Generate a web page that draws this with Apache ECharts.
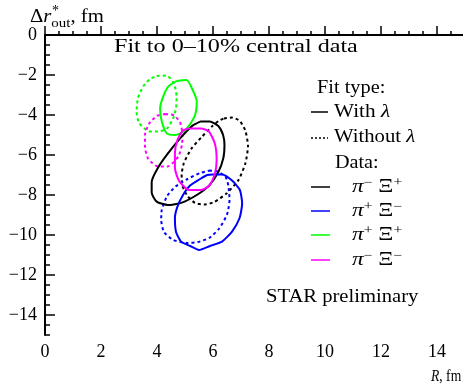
<!DOCTYPE html>
<html><head><meta charset="utf-8">
<script src="https://cdn.jsdelivr.net/npm/echarts@6/dist/echarts.min.js"></script>
<style>html,body{margin:0;padding:0;background:#fff}#c{width:463px;height:388px}</style>
</head><body><div id="c"></div>
<script>
// ---- data (R [fm], Δr*out [fm]) ----
const seriesNames = ['π⁻Ξ⁺', 'π⁺Ξ⁻', 'π⁺Ξ⁺', 'π⁻Ξ⁻'];
const seriesColors = ['#000000', '#0000ff', '#00ff00', '#ff00ff'];
const xTickLabels = [0, 2, 4, 6, 8, 10, 12, 14];
const yTickLabels = [0, -2, -4, -6, -8, -10, -12, -14];

const piMXiP_with = [[5.54,-4.33],[5.89,-4.33],[6.19,-4.55],[6.36,-5.00],[6.41,-5.50],[6.37,-6.15],[6.19,-6.85],[5.86,-7.53],[5.42,-8.00],[4.89,-8.38],[4.39,-8.50],[3.99,-8.33],[3.81,-7.88],[3.81,-7.35],[4.02,-6.67],[4.39,-5.92],[4.88,-5.08],[5.27,-4.53]];
const piMXiP_without = [[6.39,-4.17],[6.68,-4.13],[6.96,-4.30],[7.16,-4.80],[7.25,-5.55],[7.16,-6.40],[6.91,-7.25],[6.48,-7.93],[6.04,-8.35],[5.68,-8.48],[5.36,-8.40],[5.09,-8.05],[4.91,-7.55],[4.88,-7.00],[4.96,-6.40],[5.23,-5.68],[5.61,-5.08],[5.98,-4.55],[6.20,-4.30]];
const piPXiM_with = [[5.98,-6.98],[6.32,-6.98],[6.68,-7.28],[6.96,-7.75],[7.04,-8.42],[6.95,-9.15],[6.68,-9.83],[6.32,-10.33],[5.89,-10.55],[5.50,-10.75],[5.18,-10.55],[4.86,-10.33],[4.68,-9.85],[4.64,-9.15],[4.73,-8.58],[4.93,-8.00],[5.18,-7.53],[5.54,-7.20],[5.79,-7.00]];
const piPXiM_without = [[5.86,-6.78],[6.18,-6.83],[6.45,-7.10],[6.55,-7.55],[6.59,-8.25],[6.50,-8.98],[6.21,-9.70],[5.86,-10.15],[5.46,-10.35],[5.05,-10.40],[4.58,-10.25],[4.25,-9.85],[4.15,-9.25],[4.17,-8.75],[4.36,-8.05],[4.66,-7.58],[5.09,-7.20],[5.54,-6.90]];
const piPXiP_with = [[4.70,-2.30],[5.06,-2.25],[5.30,-2.83],[5.42,-3.33],[5.36,-4.00],[5.12,-4.58],[4.94,-4.83],[4.64,-5.00],[4.35,-4.92],[4.17,-4.33],[4.11,-3.67],[4.22,-3.08],[4.40,-2.58]];
const piPXiP_without = [[3.99,-2.05],[4.35,-2.03],[4.61,-2.45],[4.70,-3.10],[4.68,-3.65],[4.57,-4.20],[4.36,-4.67],[4.04,-4.83],[3.68,-4.80],[3.36,-4.40],[3.27,-3.85],[3.32,-3.15],[3.52,-2.55],[3.75,-2.20]];
const piMXiM_with = [[5.12,-4.67],[5.57,-4.67],[5.86,-4.83],[6.07,-5.45],[6.13,-6.25],[6.07,-6.92],[5.89,-7.50],[5.57,-7.75],[5.14,-7.75],[4.79,-7.30],[4.64,-6.65],[4.64,-5.90],[4.73,-5.25],[4.91,-4.80]];
const piMXiM_without = [[4.29,-3.95],[4.58,-4.00],[4.82,-4.35],[4.91,-5.00],[4.89,-5.50],[4.76,-6.08],[4.39,-6.57],[4.04,-6.58],[3.69,-6.20],[3.57,-5.58],[3.57,-5.00],[3.71,-4.45],[3.99,-4.05]];

const withSets = [piMXiP_with, piPXiM_with, piPXiP_with, piMXiM_with];
const withoutSets = [piMXiP_without, piPXiM_without, piPXiP_without, piMXiM_without];

// ---- chart ----
const FONT = '"Liberation Serif","Times New Roman",serif';
const close = pts => pts.concat([pts[0]]);
const series = [];
withoutSets.forEach((pts, i) => series.push({
  name: seriesNames[i] + ' (without λ)', type: 'line', data: close(pts), showSymbol: false, smooth: 0.2,
  lineStyle: { color: seriesColors[i], width: 2, type: [3, 3] }, silent: true, z: 2
}));
withSets.forEach((pts, i) => series.push({
  name: seriesNames[i] + ' (with λ)', type: 'line', data: close(pts), showSymbol: false, smooth: 0.2,
  lineStyle: { color: seriesColors[i], width: 2 }, silent: true, z: 3
}));

const minus = v => (v < 0 ? '\u2212' + Math.abs(v) : String(v));
const chart = echarts.init(document.getElementById('c'), null, { renderer: 'canvas' });

const richPi = {
  i: { fontFamily: FONT, fontSize: 18, fontStyle: 'italic', color: '#000' },
  n: { fontFamily: FONT, fontSize: 18, color: '#000' },
  sup: { fontFamily: FONT, fontSize: 12, color: '#000', verticalAlign: 'top', lineHeight: 20 }
};
const piLabels = ['{i|π}{sup|−} {n|Ξ}{sup|+}', '{i|π}{sup|+} {n|Ξ}{sup|−}', '{i|π}{sup|+} {n|Ξ}{sup|+}', '{i|π}{sup|−} {n|Ξ}{sup|−}'];
const legendY = [187, 211, 235, 260];
const italic = { i: { fontFamily: FONT, fontSize: 18, fontStyle: 'italic', fill: '#000' } };

const graphic = [
  { type: 'text', x: 30, y: 4, scaleX: 1.15, style: { text: '{n|Δ}{i|r}{sub|out}{n|, fm}', rich: {
      n: { fontFamily: FONT, fontSize: 18, color: '#000' },
      i: { fontFamily: FONT, fontSize: 18, fontStyle: 'italic', color: '#000' },
      sub: { fontFamily: FONT, fontSize: 13, color: '#000', verticalAlign: 'bottom', lineHeight: 26 } } } },
  { type: 'text', x: 52, y: 4, style: { text: '*', fontFamily: FONT, fontSize: 14, fill: '#000' } },
  { type: 'text', x: 114, y: 47, scaleX: 1.34, style: { text: 'Fit to 0–10% central data', fontFamily: FONT, fontSize: 18, fill: '#000', textVerticalAlign: 'middle' } },
  { type: 'text', x: 317, y: 88, scaleX: 1.13, style: { text: 'Fit type:', fontFamily: FONT, fontSize: 18, fill: '#000', textVerticalAlign: 'middle' } },
  { type: 'line', shape: { x1: 311, y1: 112, x2: 328, y2: 112 }, style: { stroke: '#000', lineWidth: 1.5 } },
  { type: 'text', x: 334, y: 112, scaleX: 1.18, style: { text: 'With {i|λ}', rich: italic, fontFamily: FONT, fontSize: 18, fill: '#000', textVerticalAlign: 'middle' } },
  { type: 'line', shape: { x1: 311, y1: 138, x2: 328, y2: 138 }, style: { stroke: '#000', lineWidth: 1.5, lineDash: [2, 2] } },
  { type: 'text', x: 334, y: 137, scaleX: 1.15, style: { text: 'Without {i|λ}', rich: italic, fontFamily: FONT, fontSize: 18, fill: '#000', textVerticalAlign: 'middle' } },
  { type: 'text', x: 335, y: 163, scaleX: 1.12, style: { text: 'Data:', fontFamily: FONT, fontSize: 18, fill: '#000', textVerticalAlign: 'middle' } },
  { type: 'text', x: 266, y: 297, scaleX: 1.145, style: { text: 'STAR preliminary', fontFamily: FONT, fontSize: 18, fill: '#000', textVerticalAlign: 'middle' } },
  { type: 'text', x: 431, y: 377, scaleX: 0.8, style: { text: '{i|R}, fm', rich: { i: { fontFamily: FONT, fontSize: 17, fontStyle: 'italic', fill: '#000' } }, fontFamily: FONT, fontSize: 17, fill: '#000', textVerticalAlign: 'middle' } }
];
seriesNames.forEach((n, i) => {
  graphic.push({ type: 'line', shape: { x1: 311, y1: legendY[i], x2: 330, y2: legendY[i] }, style: { stroke: seriesColors[i], lineWidth: 1.5 } });
  graphic.push({ type: 'text', x: 352, y: legendY[i], scaleX: 1.3, style: { text: piLabels[i], rich: richPi, fontFamily: FONT, fontSize: 18, fill: '#000', textVerticalAlign: 'middle' } });
});

const axLine = { show: true, lineStyle: { color: '#000', width: 2 } };
chart.setOption({
  animation: false,
  backgroundColor: '#fff',
  grid: { left: 45, top: 35, width: 448, height: 300, containLabel: false, outerBoundsMode: 'none' },
  xAxis: [
    { type: 'value', position: 'bottom', min: 0, max: 16, interval: 0.5, axisLine: axLine,
      axisTick: { inside: true, length: 4, lineStyle: { color: '#000', width: 1.5 } }, axisLabel: { show: false }, splitLine: { show: false } },
    { type: 'value', position: 'bottom', min: 0, max: 16, interval: 2, axisLine: { show: false },
      axisTick: { inside: true, length: 9, lineStyle: { color: '#000', width: 1.5 } },
      axisLabel: { color: '#000', fontFamily: FONT, fontSize: 18, margin: 8, formatter: v => (xTickLabels.includes(v) ? String(v) : '') },
      splitLine: { show: false } },
    { type: 'value', position: 'top', min: 0, max: 16, axisLine: axLine, axisTick: { show: false }, axisLabel: { show: false }, splitLine: { show: false } }
  ],
  yAxis: [
    { type: 'value', position: 'left', min: -15, max: 0, interval: 0.5, axisLine: axLine,
      axisTick: { inside: true, length: 5, lineStyle: { color: '#000', width: 1.5 } }, axisLabel: { show: false }, splitLine: { show: false } },
    { type: 'value', position: 'left', min: -15, max: 0, axisLine: { show: false },
      axisTick: { inside: true, length: 10, customValues: yTickLabels, lineStyle: { color: '#000', width: 1.5 } },
      axisLabel: { color: '#000', fontFamily: FONT, fontSize: 18, margin: 8, customValues: yTickLabels, formatter: minus },
      splitLine: { show: false } }
  ],
  series: series,
  graphic: graphic
});
</script></body></html>
